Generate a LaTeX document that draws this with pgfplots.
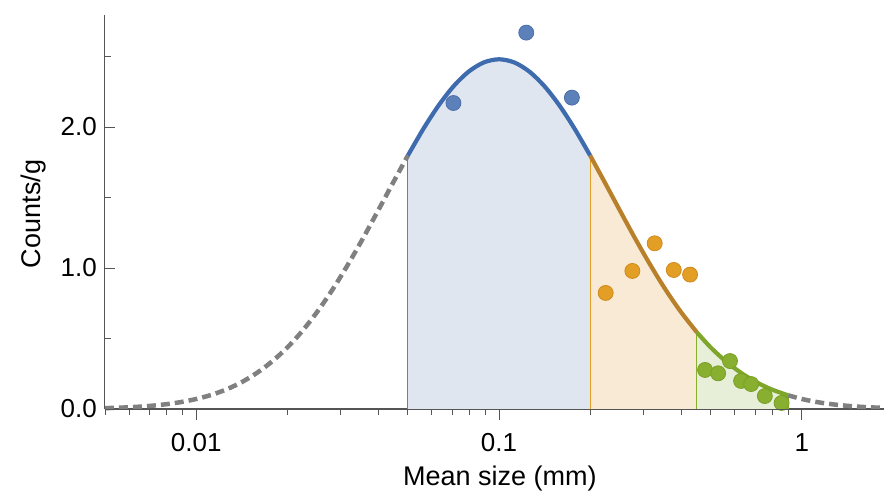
\documentclass[border=0pt]{standalone}
\usepackage{fontspec}
\setmainfont{Liberation Sans}
\usepackage{pgfplots}
\pgfplotsset{compat=1.18}
\definecolor{blueline}{HTML}{3E6BAD}
\definecolor{bluefill}{HTML}{DFE6F0}
\definecolor{bluept}{HTML}{5B80BA}
\definecolor{blueedge}{HTML}{4C6FAA}
\definecolor{orangeline}{HTML}{B8802A}
\definecolor{orangefill}{HTML}{F8EAD5}
\definecolor{orangept}{HTML}{E39E26}
\definecolor{orangeedge}{HTML}{D08A1A}
\definecolor{greenline}{HTML}{7EA62A}
\definecolor{greenfill}{HTML}{E8EFD9}
\definecolor{greenpt}{HTML}{88AF2F}
\definecolor{greenedge}{HTML}{78A025}
\definecolor{axgray}{HTML}{555555}
\begin{document}
\begin{tikzpicture}
\begin{axis}[at={(0,0)}, anchor=south west,
  scale only axis, width=779bp, height=394bp,
  xmode=log, xmin=0.005, xmax=1.867, ymin=0, ymax=2.794,
  axis line style={axgray, line width=1bp},
  every tick/.style={axgray, line width=0.9bp},
  clip=false,
  axis x line*=bottom, axis y line*=left,
  xtick=\empty,
  ytick={0,1,2}, yticklabels={0.0,1.0,2.0},
  minor ytick={0.5,1.5,2.5},
  tick align=inside, major tick length=10bp, minor tick length=6bp,
  yticklabel style={font=\fontsize{26bp}{30bp}\selectfont, inner sep=0pt, anchor=east, xshift=-8bp},
  ylabel={Counts/g},
  ylabel style={font=\fontsize{27bp}{31bp}\selectfont, at={(axis description cs:-0.083,0.495)}, anchor=base, rotate=0},
]
% fills
\addplot[draw=none, fill=bluefill] coordinates {(0.05,1.797) (0.0562341,1.986) (0.0630957,2.151) (0.0707946,2.289) (0.0794328,2.393) (0.0891251,2.458) (0.1,2.48) (0.112202,2.458) (0.125893,2.393) (0.141254,2.289) (0.158489,2.151) (0.177828,1.986) (0.2,1.797) (0.2,0) (0.05,0)} -- cycle;
\addplot[draw=none, fill=orangefill] coordinates {(0.2,1.797) (0.223872,1.604) (0.251189,1.404) (0.281838,1.207) (0.316228,1.020) (0.354813,0.846) (0.398107,0.690) (0.45,0.544) (0.45,0) (0.2,0)} -- cycle;
\addplot[draw=none, fill=greenfill] coordinates {(0.45,0.544) (0.501187,0.434) (0.562341,0.336) (0.630957,0.255) (0.707946,0.190) (0.794328,0.139) (0.9,0.0973) (0.9,0) (0.45,0)} -- cycle;
% boundaries
\addplot[bluept, line width=1.2bp] coordinates {(0.05,0) (0.05,1.797)};
\addplot[orangept, line width=1.2bp] coordinates {(0.2,0) (0.2,1.797)};
\addplot[greenpt, line width=1.2bp] coordinates {(0.45,0) (0.45,0.544)};
\addplot[greenpt, line width=1.2bp] coordinates {(0.9,0) (0.9,0.0973)};
% dashed tails
\addplot[gray, line width=4.5bp, dash pattern=on 9bp off 5bp, smooth] coordinates {(0.005,0.0061) (0.00562341,0.0096) (0.00630957,0.0148) (0.00707946,0.0225) (0.00794328,0.0336) (0.00891251,0.0492) (0.01,0.0709) (0.0112202,0.100) (0.0125893,0.139) (0.0141254,0.190) (0.0158489,0.255) (0.0177828,0.336) (0.0199526,0.434) (0.0223872,0.552) (0.0251189,0.690) (0.0281838,0.846) (0.0316228,1.020) (0.0354813,1.207) (0.0398107,1.404) (0.0446684,1.604) (0.05,1.797)};
\addplot[gray, line width=4.5bp, dash pattern=on 9bp off 5bp, smooth] coordinates {(0.9,0.0973) (1,0.0709) (1.12202,0.0492) (1.25893,0.0336) (1.41254,0.0225) (1.58489,0.0148) (1.77828,0.0096) (1.867,0.0079)};
% curves
\addplot[blueline, line width=4.2bp, smooth] coordinates {(0.05,1.797) (0.0562341,1.986) (0.0630957,2.151) (0.0707946,2.289) (0.0794328,2.393) (0.0891251,2.458) (0.1,2.48) (0.112202,2.458) (0.125893,2.393) (0.141254,2.289) (0.158489,2.151) (0.177828,1.986) (0.2,1.797)};
\addplot[orangeline, line width=4.2bp, smooth] coordinates {(0.2,1.797) (0.223872,1.604) (0.251189,1.404) (0.281838,1.207) (0.316228,1.020) (0.354813,0.846) (0.398107,0.690) (0.45,0.544)};
\addplot[greenline, line width=4.2bp, smooth] coordinates {(0.45,0.544) (0.501187,0.434) (0.562341,0.336) (0.630957,0.255) (0.707946,0.190) (0.794328,0.139) (0.9,0.0973)};
% points
\addplot[only marks, mark=*, mark size=7.5bp, mark options={fill=bluept, draw=blueedge, line width=0.8bp}] coordinates {(0.0707,2.17) (0.123,2.669) (0.174,2.208)};
\addplot[only marks, mark=*, mark size=7.5bp, mark options={fill=orangept, draw=orangeedge, line width=0.8bp}] coordinates {(0.225,0.823) (0.2756,0.979) (0.3266,1.175) (0.3776,0.986) (0.4274,0.953)};
\addplot[only marks, mark=*, mark size=7.5bp, mark options={fill=greenpt, draw=greenedge, line width=0.8bp}] coordinates {(0.479,0.277) (0.529,0.253) (0.579,0.340) (0.630,0.199) (0.680,0.177) (0.7546,0.092) (0.857,0.043)};
\end{axis}
\begin{axis}[at={(0,0)}, anchor=south west,
  scale only axis, width=779bp, height=394bp,
  xmode=log, xmin=0.005, xmax=1.867, ymin=0, ymax=2.794,
  axis line style={axgray, line width=1bp},
  every tick/.style={axgray, line width=0.9bp},
  axis x line*=bottom, axis y line=none,
  ytick=\empty,
  xtick={0.01,0.1,1}, xticklabels={0.01,0.1,1},
  minor xtick={0.005,0.006,0.007,0.008,0.009,0.02,0.03,0.04,0.05,0.06,0.07,0.08,0.09,0.2,0.3,0.4,0.5,0.6,0.7,0.8,0.9},
  tick align=outside, major tick length=11bp, minor tick length=5.5bp,
  xticklabel style={font=\fontsize{26bp}{30bp}\selectfont, inner sep=0pt, anchor=north, yshift=-13bp},
  xlabel={Mean size (mm)},
  xlabel style={font=\fontsize{27bp}{31bp}\selectfont, at={(axis description cs:0.507,0)}, anchor=base, yshift=-76bp},
]
\addplot[draw=none] coordinates {(0.1,1)};
\end{axis}
\pgfresetboundingbox
\path (-105bp,-82bp) rectangle (780bp,409bp);
\end{tikzpicture}
\end{document}
